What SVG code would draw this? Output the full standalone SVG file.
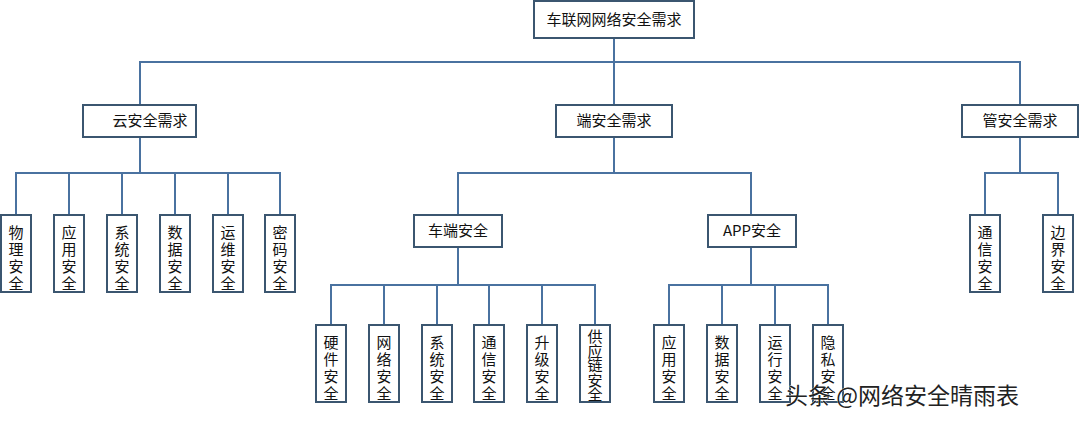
<svg xmlns="http://www.w3.org/2000/svg" width="1080" height="422" viewBox="0 0 1080 422">
<style>
.b{fill:#fff;stroke:#3b5670;stroke-width:2}
.l{fill:none;stroke:#4a72a0;stroke-width:2}
.t{font-family:"Noto Sans CJK SC","Liberation Sans",sans-serif;font-size:15px;fill:#111;text-anchor:middle}
.v{font-family:"Noto Sans CJK SC",sans-serif;font-size:15px;fill:#111;text-anchor:middle}
</style>
<rect width="1080" height="422" fill="#fff"/>
<g id="connectors" class="l">
<path d="M614 38V62M140 105V62H1020V105M614 62V105"/>
<path d="M140 136V173M16 215V173H280V215M69 173V215M122 173V215M175 173V215M228 173V215"/>
<path d="M614 136V173M458 215V173H751V215"/>
<path d="M458 246V285M331 325V285H595V325M384 285V325M437 285V325M489 285V325M542 285V325"/>
<path d="M751 246V285M669 325V285H828V325M722 285V325M775 285V325"/>
<path d="M1020 136V173M985 215V173H1058V215"/>
</g>
<g id="root"><rect class="b" x="534" y="1" width="160" height="37"/><text class="t" x="614" y="25">车联网网络安全需求</text></g>
<g id="cloud"><rect class="b" x="83" y="105" width="113" height="32"/><text class="t" x="150" y="126">云安全需求</text></g>
<g id="end"><rect class="b" x="556" y="105" width="116" height="32"/><text class="t" x="614" y="126">端安全需求</text></g>
<g id="pipe"><rect class="b" x="962" y="105" width="116" height="32"/><text class="t" x="1020" y="126">管安全需求</text></g>
<g id="car"><rect class="b" x="414" y="215" width="88" height="32"/><text class="t" x="458" y="236">车端安全</text></g>
<g id="app"><rect class="b" x="708" y="215" width="88" height="32"/><text class="t" x="752" y="236">APP安全</text></g>
<g id="c1"><rect class="b" x="1" y="215" width="30" height="77"/><text class="v" x="16" y="238"><tspan x="16">物</tspan><tspan x="16" dy="17">理</tspan><tspan x="16" dy="17">安</tspan><tspan x="16" dy="17">全</tspan></text></g>
<g id="c2"><rect class="b" x="54" y="215" width="30" height="77"/><text class="v" y="238"><tspan x="69">应</tspan><tspan x="69" dy="17">用</tspan><tspan x="69" dy="17">安</tspan><tspan x="69" dy="17">全</tspan></text></g>
<g id="c3"><rect class="b" x="107" y="215" width="30" height="77"/><text class="v" y="238"><tspan x="122">系</tspan><tspan x="122" dy="17">统</tspan><tspan x="122" dy="17">安</tspan><tspan x="122" dy="17">全</tspan></text></g>
<g id="c4"><rect class="b" x="160" y="215" width="30" height="77"/><text class="v" y="238"><tspan x="175">数</tspan><tspan x="175" dy="17">据</tspan><tspan x="175" dy="17">安</tspan><tspan x="175" dy="17">全</tspan></text></g>
<g id="c5"><rect class="b" x="213" y="215" width="30" height="77"/><text class="v" y="238"><tspan x="228">运</tspan><tspan x="228" dy="17">维</tspan><tspan x="228" dy="17">安</tspan><tspan x="228" dy="17">全</tspan></text></g>
<g id="c6"><rect class="b" x="265" y="215" width="30" height="77"/><text class="v" y="238"><tspan x="280">密</tspan><tspan x="280" dy="17">码</tspan><tspan x="280" dy="17">安</tspan><tspan x="280" dy="17">全</tspan></text></g>
<g id="e1"><rect class="b" x="316" y="325" width="30" height="77"/><text class="v" y="348"><tspan x="331">硬</tspan><tspan x="331" dy="17">件</tspan><tspan x="331" dy="17">安</tspan><tspan x="331" dy="17">全</tspan></text></g>
<g id="e2"><rect class="b" x="369" y="325" width="30" height="77"/><text class="v" y="348"><tspan x="384">网</tspan><tspan x="384" dy="17">络</tspan><tspan x="384" dy="17">安</tspan><tspan x="384" dy="17">全</tspan></text></g>
<g id="e3"><rect class="b" x="422" y="325" width="30" height="77"/><text class="v" y="348"><tspan x="437">系</tspan><tspan x="437" dy="17">统</tspan><tspan x="437" dy="17">安</tspan><tspan x="437" dy="17">全</tspan></text></g>
<g id="e4"><rect class="b" x="474" y="325" width="30" height="77"/><text class="v" y="348"><tspan x="489">通</tspan><tspan x="489" dy="17">信</tspan><tspan x="489" dy="17">安</tspan><tspan x="489" dy="17">全</tspan></text></g>
<g id="e5"><rect class="b" x="527" y="325" width="30" height="77"/><text class="v" y="348"><tspan x="542">升</tspan><tspan x="542" dy="17">级</tspan><tspan x="542" dy="17">安</tspan><tspan x="542" dy="17">全</tspan></text></g>
<g id="e6"><rect class="b" x="580" y="325" width="30" height="77"/><text class="v" y="342" font-size="13"><tspan x="595">供</tspan><tspan x="595" dy="14.5">应</tspan><tspan x="595" dy="14.5">链</tspan><tspan x="595" dy="14.5">安</tspan><tspan x="595" dy="14.5">全</tspan></text></g>
<g id="a1"><rect class="b" x="654" y="325" width="30" height="77"/><text class="v" y="348"><tspan x="669">应</tspan><tspan x="669" dy="17">用</tspan><tspan x="669" dy="17">安</tspan><tspan x="669" dy="17">全</tspan></text></g>
<g id="a2"><rect class="b" x="707" y="325" width="30" height="77"/><text class="v" y="348"><tspan x="722">数</tspan><tspan x="722" dy="17">据</tspan><tspan x="722" dy="17">安</tspan><tspan x="722" dy="17">全</tspan></text></g>
<g id="a3"><rect class="b" x="760" y="325" width="30" height="77"/><text class="v" y="348"><tspan x="775">运</tspan><tspan x="775" dy="17">行</tspan><tspan x="775" dy="17">安</tspan><tspan x="775" dy="17">全</tspan></text></g>
<g id="a4"><rect class="b" x="813" y="325" width="30" height="77"/><text class="v" y="348"><tspan x="828">隐</tspan><tspan x="828" dy="17">私</tspan><tspan x="828" dy="17">安</tspan><tspan x="828" dy="17">全</tspan></text></g>
<g id="p1"><rect class="b" x="970" y="215" width="30" height="77"/><text class="v" y="238"><tspan x="985">通</tspan><tspan x="985" dy="17">信</tspan><tspan x="985" dy="17">安</tspan><tspan x="985" dy="17">全</tspan></text></g>
<g id="p2"><rect class="b" x="1043" y="215" width="30" height="77"/><text class="v" y="238"><tspan x="1058">边</tspan><tspan x="1058" dy="17">界</tspan><tspan x="1058" dy="17">安</tspan><tspan x="1058" dy="17">全</tspan></text></g>
<text x="785" y="404" font-family="Noto Sans CJK SC,sans-serif" font-size="23" fill="#222" stroke="#fff" stroke-width="0.6" paint-order="stroke">头条 @网络安全晴雨表</text>
</svg>
